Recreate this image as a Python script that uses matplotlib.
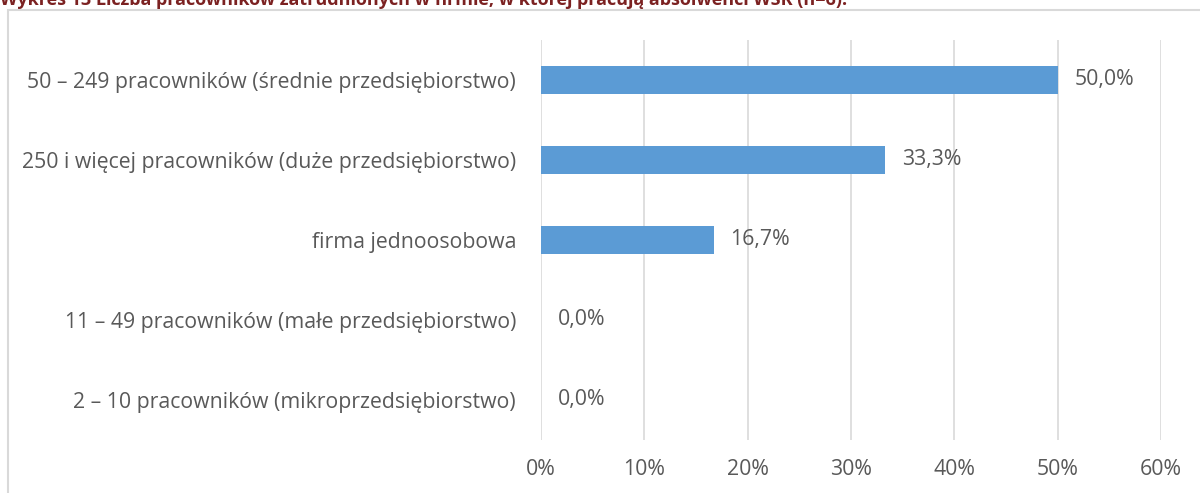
import matplotlib.pyplot as plt
from matplotlib.patches import Rectangle
from matplotlib.ticker import FuncFormatter

plt.rcParams['font.family'] = ['Open Sans', 'DejaVu Sans']

categories = [
    "50 – 249 pracowników (średnie przedsiębiorstwo)",
    "250 i więcej pracowników (duże przedsiębiorstwo)",
    "firma jednoosobowa",
    "11 – 49 pracowników (małe przedsiębiorstwo)",
    "2 – 10 pracowników (mikroprzedsiębiorstwo)",
]
values = [50.0, 33.3, 16.7, 0.0, 0.0]
value_labels = ["50,0%", "33,3%", "16,7%", "0,0%", "0,0%"]
x_ticks = [0, 10, 20, 30, 40, 50, 60]
title = "Wykres 13 Liczba pracowników zatrudnionych w firmie, w której pracują absolwenci WSK (n=6)."

W, H = 1200, 493
fig = plt.figure(figsize=(W / 100, H / 100), dpi=100)
ax = fig.add_axes([541 / W, 1 - 440 / H, (1161 - 541) / W, 400 / H])

text_col = '#595959'
fs = 15.3
ypos = list(range(len(categories)))
ax.barh(ypos, values, height=0.35, color='#5B9BD5', zorder=3)
for y, v, lab in zip(ypos, values, value_labels):
    ax.annotate(lab, (v, y), xytext=(12, 0), textcoords='offset points',
                va='center', ha='left', fontsize=fs, color=text_col)

ax.set_xlim(0, 60)
ax.set_ylim(len(categories) - 0.5, -0.5)
ax.set_xticks(x_ticks)
ax.xaxis.set_major_formatter(FuncFormatter(lambda v, p: f"{v:.0f}%"))
ax.set_yticks(ypos)
ax.set_yticklabels(categories)
ax.grid(axis='x', color='#D9D9D9', linewidth=1.2, zorder=0)
for s in ax.spines.values():
    s.set_visible(False)
ax.tick_params(axis='both', length=0, labelsize=fs, colors=text_col)
ax.tick_params(axis='x', pad=14)
ax.tick_params(axis='y', pad=18)

# chart frame
fig.patches.append(Rectangle((8 / W, -0.1), 1.2, 1 - 10 / H + 0.1, transform=fig.transFigure,
                             fill=False, edgecolor='#D9D9D9', linewidth=1.5))

fig.text(0.0, 1 - 5 / H, title, fontsize=13, fontweight='bold', color='#7B2121',
         ha='left', va='baseline')

fig.savefig('out.png', dpi=100)
